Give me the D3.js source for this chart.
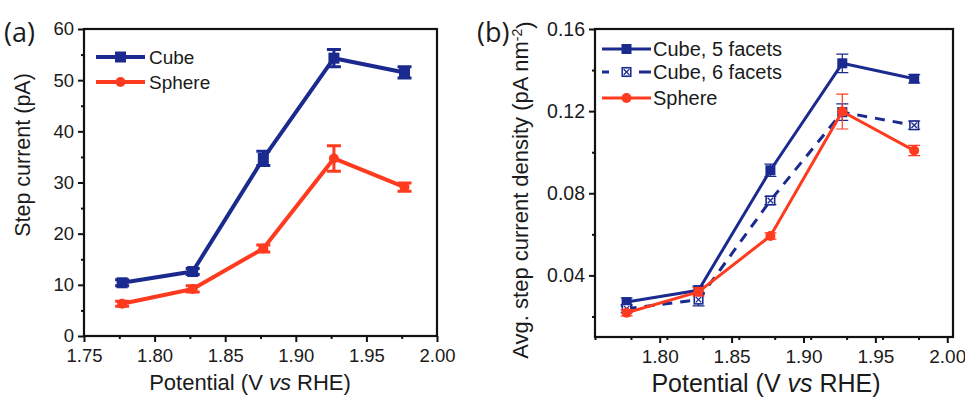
<!DOCTYPE html>
<html><head><meta charset="utf-8">
<script src="https://cdn.jsdelivr.net/npm/d3@7"></script>
<style>
html,body{margin:0;padding:0;background:#fff;}
svg text{font-family:"Liberation Sans",Arial,sans-serif;fill:#1a1a1a;}
</style></head>
<body>
<svg id="chart" width="965" height="397"></svg>
<script>
// ---------- data ----------
const potentials = [1.777, 1.827, 1.877, 1.927, 1.977];

const cubeA      = [10.4, 12.6, 34.7, 54.3, 51.5];
const cubeAErr   = [0.6, 0.6, 1.4, 1.7, 1.1];
const sphereA    = [6.3, 9.2, 17.1, 34.7, 29.1];
const sphereAErr = [0.5, 0.6, 0.7, 2.5, 0.8];

const cube5B     = [0.027, 0.0328, 0.0912, 0.1433, 0.1358];
const cube5BErr  = [0.002, 0.002, 0.003, 0.0045, 0.002];
const cube6B     = [0.0238, 0.0282, 0.0765, 0.1195, 0.1131];
const cube6BErr  = [0.002, 0.003, 0.002, 0.004, 0.002];
const sphereB    = [0.0218, 0.032, 0.0592, 0.1198, 0.1008];
const sphereBErr = [0.0015, 0.002, 0.0015, 0.0085, 0.0025];

const xTicksA = [1.75, 1.80, 1.85, 1.90, 1.95, 2.00];
const yTicksA = [0, 10, 20, 30, 40, 50, 60];
const xTicksB = [1.80, 1.85, 1.90, 1.95, 2.00];
const yTicksB = [0.04, 0.08, 0.12, 0.16];

const BLUE = "#1b2a8e", RED = "#ff3b1f";

const svg = d3.select("#chart");

function panel(opts) {
  const g = svg.append("g");
  const x = d3.scaleLinear().domain(opts.xDomain).range([opts.left, opts.right]);
  const y = d3.scaleLinear().domain(opts.yDomain).range([opts.bottom, opts.top]);

  const xMinor = d3.range(opts.xDomain[0] - 0.1, opts.xDomain[1] + 0.1, 0.025)
      .map(v => Math.round(v * 1000) / 1000)
      .filter(v => v >= opts.xDomain[0] - 1e-9 && v <= opts.xDomain[1] + 1e-9 && !opts.xTicks.some(t => Math.abs(t - v) < 1e-6));
  g.append("g").attr("transform", `translate(0,${opts.bottom})`)
    .call(d3.axisBottom(x).tickValues(xMinor).tickSize(3).tickFormat(""))
    .call(a => a.select(".domain").remove())
    .call(a => a.selectAll("line").attr("stroke", "#111").attr("stroke-width", 2));
  g.append("g").attr("transform", `translate(${opts.left},0)`)
    .call(d3.axisLeft(y).tickValues(opts.yMinor).tickSize(3).tickFormat(""))
    .call(a => a.select(".domain").remove())
    .call(a => a.selectAll("line").attr("stroke", "#111").attr("stroke-width", 2));

  const xa = g.append("g").attr("transform", `translate(0,${opts.bottom})`)
    .call(d3.axisBottom(x).tickValues(opts.xTicks).tickSize(6).tickPadding(7).tickFormat(d3.format(".2f")));
  xa.select(".domain").remove();
  xa.selectAll("line").attr("stroke", "#111").attr("stroke-width", 2);
  xa.selectAll("text").style("font-size", opts.xTickFont + "px").attr("fill", "#1a1a1a");

  const ya = g.append("g").attr("transform", `translate(${opts.left},0)`)
    .call(d3.axisLeft(y).tickValues(opts.yTicks).tickSize(6).tickPadding(4).tickFormat(opts.yFormat));
  ya.select(".domain").remove();
  ya.selectAll("line").attr("stroke", "#111").attr("stroke-width", 2);
  ya.selectAll("text").style("font-size", opts.yTickFont + "px").attr("fill", "#1a1a1a");

  g.append("rect").attr("x", opts.left).attr("y", opts.top)
    .attr("width", opts.right - opts.left).attr("height", opts.bottom - opts.top)
    .attr("fill", "none").attr("stroke", "#111").attr("stroke-width", 2.2);

  return {g, x, y};
}

function marker(sel, shape, cx, cy, color, size) {
  if (shape === "square") {
    sel.append("rect").attr("x", cx - size / 2).attr("y", cy - size / 2)
      .attr("width", size).attr("height", size).attr("fill", color);
  } else if (shape === "circle") {
    sel.append("circle").attr("cx", cx).attr("cy", cy).attr("r", size / 2).attr("fill", color);
  } else if (shape === "xsquare") {
    const s = size - 1.5;
    sel.append("rect").attr("x", cx - s / 2).attr("y", cy - s / 2)
      .attr("width", s).attr("height", s).attr("fill", "#fff").attr("stroke", color).attr("stroke-width", 1.6);
    const d = s / 2 - 1.5;
    sel.append("path").attr("d", `M${cx - d},${cy - d}L${cx + d},${cy + d}M${cx - d},${cy + d}L${cx + d},${cy - d}`)
      .attr("stroke", color).attr("stroke-width", 1.3);
  }
}

function series(p, vals, errs, o) {
  const data = potentials.map((v, i) => ({x: v, y: vals[i], e: errs[i]}));
  const line = d3.line().x(d => p.x(d.x)).y(d => p.y(d.y));
  p.g.append("path").datum(data).attr("d", line).attr("fill", "none")
    .attr("stroke", o.color).attr("stroke-width", o.lw)
    .attr("stroke-dasharray", o.dash || null).attr("stroke-linejoin", "round");
  const eg = p.g.append("g");
  data.forEach(d => {
    const cx = p.x(d.x), y1 = p.y(d.y + d.e), y2 = p.y(d.y - d.e), c = o.cap / 2;
    eg.append("path").attr("d", `M${cx},${y1}V${y2}M${cx - c},${y1}H${cx + c}M${cx - c},${y2}H${cx + c}`)
      .attr("stroke", o.color).attr("stroke-width", o.elw).attr("fill", "none");
    marker(eg, o.shape, cx, p.y(d.y), o.color, o.size);
  });
}

function legendRow(g, x1, x2, y, o, label, fontSize, tx) {
  if (o.dash) {
    g.append("line").attr("x1", x1).attr("x2", x1 + 7).attr("y1", y).attr("y2", y)
      .attr("stroke", o.color).attr("stroke-width", o.lw);
    g.append("line").attr("x1", x2 - 12).attr("x2", x2).attr("y1", y).attr("y2", y)
      .attr("stroke", o.color).attr("stroke-width", o.lw);
  } else {
    g.append("line").attr("x1", x1).attr("x2", x2).attr("y1", y).attr("y2", y)
      .attr("stroke", o.color).attr("stroke-width", o.lw);
  }
  marker(g, o.shape, (x1 + x2) / 2, y, o.color, o.size);
  g.append("text").attr("x", tx).attr("y", y).attr("dy", "0.36em")
    .style("font-size", fontSize + "px").text(label);
}

// ---------- panel (a) ----------
const pa = panel({
  left: 84, right: 437, top: 29, bottom: 336,
  xDomain: [1.75, 2.00], yDomain: [0, 60],
  xTicks: xTicksA, yTicks: yTicksA, yMinor: [5, 15, 25, 35, 45, 55],
  yFormat: d3.format("d"), xTickFont: 18.5, yTickFont: 18.5
});
const oCubeA = {color: BLUE, lw: 4, elw: 3, cap: 14, shape: "square", size: 11};
const oSphA  = {color: RED,  lw: 4, elw: 3, cap: 14, shape: "circle", size: 10};
series(pa, cubeA, cubeAErr, oCubeA);
series(pa, sphereA, sphereAErr, oSphA);
legendRow(pa.g, 96, 145, 57, oCubeA, "Cube", 19, 149);
legendRow(pa.g, 96, 145, 82, oSphA, "Sphere", 19, 149);

svg.append("text").attr("x", 4).attr("y", 42).style("font-family", "'Open Sans',sans-serif")
  .style("font-size", "27px").text("(a)");
svg.append("text").attr("transform", "translate(30,155) rotate(-90)").attr("text-anchor", "middle")
  .style("font-size", "21.5px").text("Step current (pA)");
svg.append("text").attr("x", 250).attr("y", 390).attr("text-anchor", "middle")
  .style("font-size", "22px")
  .call(t => { t.append("tspan").text("Potential (V "); t.append("tspan").style("font-style", "italic").text("vs"); t.append("tspan").text(" RHE)"); });

// ---------- panel (b) ----------
const pb = panel({
  left: 595, right: 953, top: 29, bottom: 337,
  xDomain: [1.755, 2.004], yDomain: [0.01, 0.16],
  xTicks: xTicksB, yTicks: yTicksB, yMinor: [0.02, 0.06, 0.10, 0.14],
  yFormat: d3.format(".2f"), xTickFont: 19, yTickFont: 19.5
});
const oC5 = {color: BLUE, lw: 3, elw: 1.2, cap: 12, shape: "square", size: 10};
const oC6 = {color: BLUE, lw: 3, elw: 1.2, cap: 12, shape: "xsquare", size: 10, dash: "10,8"};
const oSB = {color: RED,  lw: 3, elw: 1.2, cap: 12, shape: "circle", size: 10};
series(pb, cube5B, cube5BErr, oC5);
series(pb, cube6B, cube6BErr, oC6);
series(pb, sphereB, sphereBErr, oSB);
legendRow(pb.g, 602, 651, 49, oC5, "Cube, 5 facets", 20, 653);
legendRow(pb.g, 602, 651, 72, oC6, "Cube, 6 facets", 20, 653);
legendRow(pb.g, 602, 651, 98, oSB, "Sphere", 20, 653);

svg.append("text").attr("x", 477).attr("y", 42).style("font-family", "'Open Sans',sans-serif")
  .style("font-size", "27px").text("(b)");
svg.append("text").attr("transform", "translate(528,190) rotate(-90)").attr("text-anchor", "middle")
  .style("font-size", "22px")
  .call(t => {
    t.append("tspan").text("Avg. step current density (pA nm");
    t.append("tspan").attr("dy", "-0.45em").style("font-size", "14px").text("-2");
    t.append("tspan").attr("dy", "0.45em").text(")");
  });
svg.append("text").attr("x", 766).attr("y", 392).attr("text-anchor", "middle")
  .style("font-size", "25px")
  .call(t => { t.append("tspan").text("Potential (V "); t.append("tspan").style("font-style", "italic").text("vs"); t.append("tspan").text(" RHE)"); });
</script>
</body></html>
